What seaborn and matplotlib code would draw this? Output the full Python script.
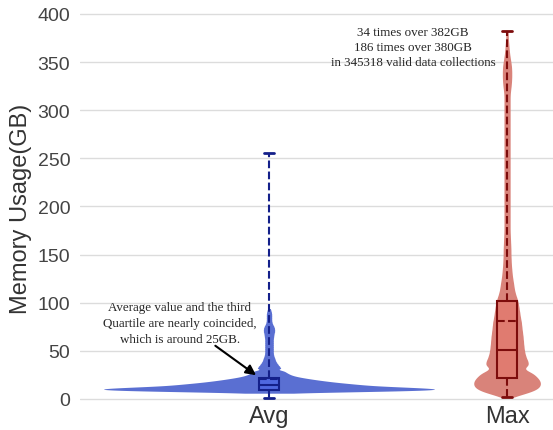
import numpy as np
import matplotlib
matplotlib.use('Agg')
import matplotlib.pyplot as plt
import seaborn as sns

# %% Data
categories = ['Avg', 'Max']

# Avg: value levels (GB) and how many collections sit at each level
avg_levels = [6, 7, 8, 9, 10, 11, 12, 13, 14, 15, 16, 17, 18, 19, 20, 21, 22,
              23, 24, 25, 26, 27, 28, 29, 30, 32, 34, 36, 38, 40, 42, 44, 46,
              48, 50, 52, 54, 56, 58, 60, 62, 64, 66, 68, 70, 72, 74, 76, 78,
              80, 82, 84, 86, 88, 90, 92, 94]
avg_counts = [40, 200, 440, 600, 660, 620, 540, 440, 370, 340, 300, 260, 230,
              200, 175, 150, 128, 108, 92, 82, 74, 68, 62, 57, 52, 90, 78, 66,
              56, 48, 44, 38, 34, 32, 32, 32, 32, 32, 32, 32, 32, 34, 36, 38,
              42, 42, 40, 34, 26, 22, 20, 20, 20, 20, 18, 14, 10]

# Max: value levels (GB) and counts
max_levels = [2, 4, 6, 8, 10, 12, 14, 16, 18, 20, 22, 24, 26, 28, 30, 35, 40,
              45, 50, 55, 60, 65, 70, 75, 80, 85, 90, 95, 100, 105, 110, 115,
              120, 125, 130, 135, 140, 145, 150, 155, 160, 165, 170, 175, 180,
              185, 190, 195, 200, 205, 210, 215, 220, 225, 230, 235, 240, 245,
              250, 255, 260, 265, 270, 275, 280, 285, 290, 295, 300, 305, 310,
              315, 320, 325, 330, 335, 340, 345, 350, 355, 360, 365, 370, 375,
              380, 382]
max_counts = [8, 24, 40, 52, 60, 64, 66, 66, 66, 64, 60, 56, 52, 49, 47, 110,
              100, 90, 85, 82, 80, 78, 75, 72, 70, 65, 62, 58, 55, 48, 40, 35,
              32, 28, 25, 23, 21, 20, 19, 19, 18, 17, 16, 15, 15, 15, 15, 15,
              15, 15, 15, 15, 15, 15, 15, 15, 15, 15, 15, 15, 15, 15, 15, 15,
              15, 15, 15, 15, 15, 15, 15, 15, 17, 20, 22, 23, 23, 22, 19, 15,
              12, 10, 8, 6, 5, 3]

# box statistics
avg_box = dict(whislo=1.5, q1=9.7, med=14.5, mean=21.0, q3=21.5, whishi=256)
max_box = dict(whislo=2, q1=22, med=51, mean=81, q3=102, whishi=382)

avg_note = 'Average value and the third\nQuartile are nearly coincided,\nwhich is around 25GB.'
max_note = '34 times over 382GB\n186 times over 380GB\nin 345318 valid data collections'

# %% Plot
sns.set_style('whitegrid', {'grid.color': '#dcdcdc', 'axes.edgecolor': 'white'})

fig = plt.figure(figsize=(5.53, 4.31), dpi=100)
ax = fig.add_axes([0.1447, 0.0608, 0.8553, 0.909])

avg_data = np.repeat(avg_levels, avg_counts).astype(float)
max_data = np.repeat(max_levels, max_counts).astype(float)

sns.violinplot(x=['Avg'] * len(avg_data), y=avg_data, order=categories, ax=ax,
               width=1.39, cut=0, inner=None, gridsize=1000,
               bw_method=1.0 / avg_data.std(), density_norm='width',
               color='#5a6fd2', saturation=1, linewidth=0)
sns.violinplot(x=['Max'] * len(max_data), y=max_data, order=categories, ax=ax,
               width=0.28, cut=0, inner=None, gridsize=1000,
               bw_method=3.0 / max_data.std(), density_norm='width',
               color='#d9837a', saturation=1, linewidth=0)

# boxes on top of the violins
for pos, st, fill, edge in [(0, avg_box, '#4f68e0', '#14208a'),
                            (1, max_box, '#e07b70', '#7d0c0c')]:
    ax.bxp([dict(st, label=categories[pos])], positions=[pos], widths=0.084,
           showmeans=True, meanline=True, showfliers=False, patch_artist=True,
           manage_ticks=False,
           boxprops=dict(facecolor=fill, edgecolor=edge, linewidth=1.5),
           medianprops=dict(color=edge, linewidth=1.5),
           meanprops=dict(color=edge, linestyle='--', linewidth=1.5),
           whiskerprops=dict(color=edge, linestyle='--', linewidth=1.5),
           capprops=dict(color=edge, linewidth=2))

ax.annotate('', xy=(-0.045, 23), xytext=(-0.235, 57),
            arrowprops=dict(arrowstyle='-|>', color='black', lw=1.5, mutation_scale=15))
ax.text(-0.374, 79, avg_note, ha='center', va='center', fontsize=9.4,
        family='Liberation Serif', linespacing=1.4)
ax.text(0.605, 365.5, max_note, ha='center', va='center', fontsize=9.4,
        family='Liberation Serif', linespacing=1.3)

ax.set_xlim(-0.794, 1.193)
ax.set_ylim(-5, 402)
ax.set_yticks(range(0, 401, 50))
ax.set_xticks([0, 1])
ax.set_xticklabels(categories)
ax.grid(axis='x', visible=False)
ax.grid(axis='y', color='#dcdcdc', linewidth=1)
ax.tick_params(axis='y', labelsize=14, labelcolor='#444444', length=0, pad=7)
ax.tick_params(axis='x', labelsize=17, labelcolor='#333333', length=0, pad=1)
for lab in ax.get_xticklabels() + ax.get_yticklabels():
    lab.set_family('Liberation Sans')
ax.set_xlabel('')
ax.set_ylabel('Memory Usage(GB)', fontsize=17, color='#333333', family='Liberation Sans', labelpad=4)
for s in ax.spines.values():
    s.set_visible(False)

fig.savefig('out.png', dpi=100)
